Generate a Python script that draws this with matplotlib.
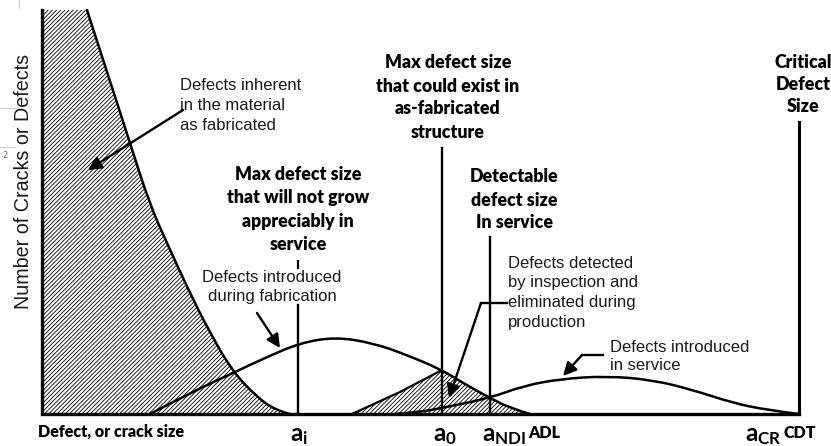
import numpy as np
import matplotlib.pyplot as plt
from matplotlib.path import Path
from matplotlib.patches import PathPatch

# -------------------------------------------
# values (pixel units)
# -------------------------------------------
inherent_x = [87, 108, 130, 150, 167, 187, 210, 233, 257, 275, 290]
inherent_y = [10, 75, 143, 205, 243, 287, 333, 372, 397, 410, 414]

fab_x = [150, 190, 235, 267, 300, 335, 373, 407, 442, 463, 490, 510, 530]
fab_y = [414, 393, 372, 357, 343, 337, 343, 355, 370, 383, 398, 408, 414]

detected_x = [352, 400, 442]
detected_y = [414, 392, 370]

service_x = [395, 420, 442, 490, 523, 560, 607, 653, 693, 733, 767, 799]
service_y = [414, 412, 408, 398, 386, 379, 376, 380, 390, 403, 410, 414]

# marker lines: x, top
mark_names = ['ai', 'a0', 'aNDI', 'aCR']
mark_x = [298, 442, 490, 799]
mark_top = [305, 148, 237, 122]

plt.rcParams['mathtext.fontset'] = 'custom'
plt.rcParams['mathtext.rm'] = 'Lato'
plt.rcParams['mathtext.bf'] = 'Lato:bold'
plt.rcParams['hatch.linewidth'] = 0.6

fig = plt.figure(figsize=(8.31, 4.46), dpi=100)
ax = fig.add_axes([0, 0, 1, 1])
ax.set_xlim(0, 831)
ax.set_ylim(446, 0)
ax.axis('off')

base = 414
x0 = 42


def smooth(xs, ys, lw=1.8):
    # quadratic pieces: read points act as controls, midpoints as anchors
    v = [(xs[0], ys[0])]
    c = [Path.MOVETO]
    n = len(xs)
    for i in range(1, n - 1):
        if i < n - 2:
            end = ((xs[i] + xs[i + 1]) / 2, (ys[i] + ys[i + 1]) / 2)
        else:
            end = (xs[-1], ys[-1])
        v += [(xs[i], ys[i]), end]
        c += [Path.CURVE3, Path.CURVE3]
    ax.add_patch(PathPatch(Path(v, c), facecolor='none', edgecolor='k',
                           lw=lw, zorder=3, capstyle='round'))


# hatched areas
ax.fill([x0] + inherent_x + [x0], [inherent_y[0]] + inherent_y + [base],
        facecolor='none', edgecolor='k', hatch='////////', lw=0, zorder=1)
idx = fab_x.index(442)
ax.fill(detected_x + fab_x[idx + 1:] + [detected_x[0]],
        detected_y + fab_y[idx + 1:] + [base],
        facecolor='none', edgecolor='k', hatch='////////', lw=0, zorder=1)

# curves
smooth(inherent_x, inherent_y)
smooth(fab_x, fab_y)
ax.plot(detected_x, detected_y, color='k', lw=1.6, zorder=3)
smooth(service_x, service_y)

# axes lines
ax.plot([x0, x0, mark_x[-1]], [inherent_y[0], base, base], color='k', lw=2.4,
        solid_joinstyle='miter', zorder=4)
for mx, mt in zip(mark_x, mark_top):
    ax.plot([mx, mx], [mt, base], color='k', lw=1.7 if mx != 799 else 2.2, zorder=4)
ax.plot([298, 298], [261, 268], color='k', lw=1.6)

# arrows
ap = dict(arrowstyle='-|>', color='k', lw=1.7, mutation_scale=20,
          shrinkA=0, shrinkB=0)
ax.annotate('', xy=(88, 170), xytext=(183, 110), arrowprops=ap, zorder=5)
ax.annotate('', xy=(280, 348), xytext=(257, 313), arrowprops=ap, zorder=5)
ax.plot([507, 481], [303, 303], color='k', lw=1.7)
ax.annotate('', xy=(449, 398), xytext=(481, 303), arrowprops=ap, zorder=5)
ax.plot([603, 582], [355, 355], color='k', lw=1.7)
ax.annotate('', xy=(563, 376), xytext=(582, 355), arrowprops=ap, zorder=5)

# plain labels
plain = dict(family='Liberation Sans', fontsize=12, color='#1a1a1a', va='center')


def lines(x, ys, texts, **kw):
    for y, t in zip(ys, texts):
        ax.text(x, y, t, **kw)


lines(180, [85, 106, 126], ['Defects inherent', 'in the material', 'as fabricated'],
      ha='left', **plain)
lines(272, [277, 297], ['Defects introduced', 'during fabrication'], ha='center', **plain)
lines(508, [263, 283, 303, 322],
      ['Defects detected', 'by inspection and', 'eliminated during', 'production'],
      ha='left', **plain)
lines(610, [347, 366], ['Defects introduced', 'in service'], ha='left', **plain)

# bold labels
bold = dict(family='Lato', fontweight='heavy', fontsize=12.8, color='k', va='center')
lines(298, [175, 198, 221, 244],
      ['Max defect size', 'that will not grow', 'appreciably in', 'service'],
      ha='center', **bold)
lines(448, [63, 86, 108, 132],
      ['Max defect size', 'that could exist in', 'as-fabricated', 'structure'],
      ha='center', **bold)
lines(514, [177, 200, 223], ['Detectable', 'defect size', 'In service'],
      ha='center', **bold)
lines(803, [62, 84, 106], ['Critical', 'Defect', 'Size'], ha='center', **bold)

ax.text(38, 432, 'Defect, or crack size', family='Lato', fontweight='heavy',
        fontsize=11.5, ha='left', va='center')

# x markers
ax.text(290, 441, r'$\mathbf{a_i}$', fontsize=17.5, ha='left', va='baseline')
ax.text(433, 441, r'$\mathbf{a_0}$', fontsize=17.5, ha='left', va='baseline')
ax.text(482, 441, r'$\mathbf{a_{NDI}}$', fontsize=17.5, ha='left', va='baseline')
ax.text(528, 433, 'ADL', family='Lato', fontweight='heavy', fontsize=11.5,
        ha='left', va='center')
ax.text(745, 441, r'$\mathbf{a_{CR}}$', fontsize=17.5, ha='left', va='baseline')
ax.text(784, 433, 'CDT', family='Lato', fontweight='heavy', fontsize=11.5,
        ha='left', va='center')

# y label
ax.text(24, 181, 'Number of Cracks or Defects', family='Liberation Sans',
        fontsize=14.2, rotation=90, ha='center', va='center', color='#1a1a1a')

# faint leftovers at the left edge of the screenshot
ax.plot([0, 15], [108, 108], color='#cccccc', lw=0.8)
ax.plot([0, 15], [147, 147], color='#cccccc', lw=0.8)
ax.plot([19, 19], [0, 8], color='#cccccc', lw=0.8)
ax.text(5, 155, '2', fontsize=6, color='#666666', ha='center', va='center')

fig.savefig('out.png', dpi=100)
